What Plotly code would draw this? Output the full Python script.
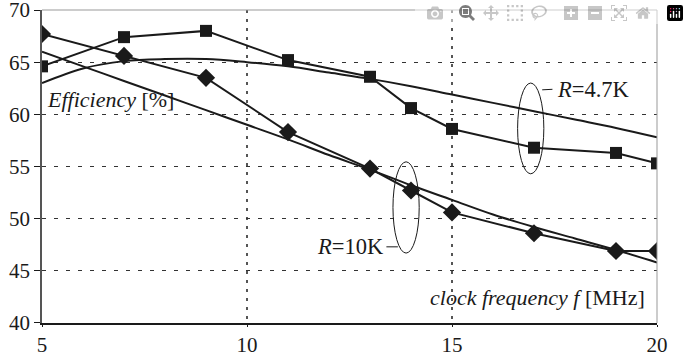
import plotly.graph_objects as go

freq = [5, 7, 9, 11, 13, 14, 15, 17, 19, 20]
eff_47k_meas = [64.6, 67.4, 68.0, 65.2, 63.6, 60.6, 58.6, 56.8, 56.3, 55.3]
eff_10k_meas = [67.7, 65.6, 63.5, 58.3, 54.8, 52.7, 50.6, 48.6, 46.9, 46.9]

freq_fit = [5, 6, 7, 8, 9, 10, 11, 12, 13, 14, 15, 16, 17, 18, 19, 20]
eff_47k_fit = [63.0, 64.4, 65.1, 65.3, 65.3, 65.0, 64.6, 64.0, 63.4, 62.7, 61.9, 61.1, 60.3, 59.5, 58.7, 57.8]
eff_10k_fit = [66.0, 64.6, 63.2, 61.8, 60.4, 59.0, 57.6, 56.1, 54.7, 53.2, 51.8, 50.4, 49.2, 48.1, 47.0, 45.8]

x_ticks = [5, 10, 15, 20]
y_ticks = [40, 45, 50, 55, 60, 65, 70]

FONT = "Liberation Serif"
INK = "#1a1a1a"

fig = go.Figure()
fig.add_trace(go.Scatter(x=freq_fit, y=eff_47k_fit, mode="lines", line=dict(color=INK, width=2, shape="spline")))
fig.add_trace(go.Scatter(x=freq_fit, y=eff_10k_fit, mode="lines", line=dict(color=INK, width=2, shape="spline")))
fig.add_trace(go.Scatter(x=freq, y=eff_47k_meas, mode="lines+markers",
                         line=dict(color=INK, width=2),
                         marker=dict(symbol="square", size=12, color=INK)))
fig.add_trace(go.Scatter(x=freq, y=eff_10k_meas, mode="lines+markers",
                         line=dict(color=INK, width=2),
                         marker=dict(symbol="diamond", size=14, color=INK)))

# ellipses and leader lines
fig.add_shape(type="circle", xref="x", yref="y", x0=16.6, x1=17.24, y0=54.3, y1=63.0,
              line=dict(color=INK, width=1))
fig.add_shape(type="circle", xref="x", yref="y", x0=13.56, x1=14.2, y0=46.7, y1=55.45,
              line=dict(color=INK, width=1))
fig.add_shape(type="line", xref="x", yref="y", x0=17.2, x1=17.45, y0=62.35, y1=62.4,
              line=dict(color=INK, width=1))
fig.add_shape(type="line", xref="x", yref="y", x0=13.4, x1=13.68, y0=47.3, y1=47.3,
              line=dict(color=INK, width=1))

fig.add_annotation(x=5.07, y=61.4, xref="x", yref="y", text="<i>Efficiency</i> [%]",
                   showarrow=False, xanchor="left", yanchor="middle",
                   font=dict(family=FONT, size=22, color=INK))
fig.add_annotation(x=19.76, y=42.4, xref="x", yref="y", text="<i>clock frequency f</i> [MHz]",
                   showarrow=False, xanchor="right", yanchor="middle",
                   font=dict(family=FONT, size=22, color=INK))
fig.add_annotation(x=17.5, y=62.4, xref="x", yref="y", text="<i>R</i>=4.7K",
                   showarrow=False, xanchor="left", yanchor="middle",
                   font=dict(family=FONT, size=22.5, color=INK))
fig.add_annotation(x=13.4, y=47.3, xref="x", yref="y", text="<i>R</i>=10K",
                   showarrow=False, xanchor="right", yanchor="middle",
                   font=dict(family=FONT, size=22.5, color=INK))

fig.update_layout(
    width=689, height=358,
    margin=dict(l=42, r=32, t=10, b=35),
    plot_bgcolor="white", paper_bgcolor="white",
    showlegend=False,
    font=dict(family=FONT, size=21, color=INK),
)
fig.update_xaxes(range=[5, 20], tickvals=x_ticks, ticks="outside", ticklen=2, tickcolor=INK,
                 showgrid=True, gridcolor="#555555", griddash="3px,6px", gridwidth=1.5,
                 showline=True, linecolor=INK, linewidth=1.5, mirror=False, zeroline=False,
                 automargin=False,
                 tickfont=dict(family=FONT, size=21, color=INK))
fig.update_yaxes(range=[39.999, 70.001], tickvals=y_ticks, ticks="outside", ticklen=6, tickcolor=INK,
                 showgrid=True, gridcolor="#333333", griddash="4px,8px", gridwidth=1,
                 showline=True, linecolor="#555555", linewidth=1.5, mirror=False, zeroline=False,
                 automargin=False, ticklabeloverflow="allow",
                 tickfont=dict(family=FONT, size=21, color=INK))
# top and right border (grey)
fig.add_shape(type="line", xref="paper", yref="paper", x0=0, x1=1, y0=1, y1=1,
              line=dict(color="#999999", width=1))
fig.add_shape(type="line", xref="paper", yref="paper", x0=1, x1=1, y0=0, y1=1,
              line=dict(color="#999999", width=1))

# remove the page's default 8px body margin so the figure sits at the window origin
fig.write_html("out.html",
               post_script="document.body.style.margin='0';document.body.style.overflow='hidden';")
